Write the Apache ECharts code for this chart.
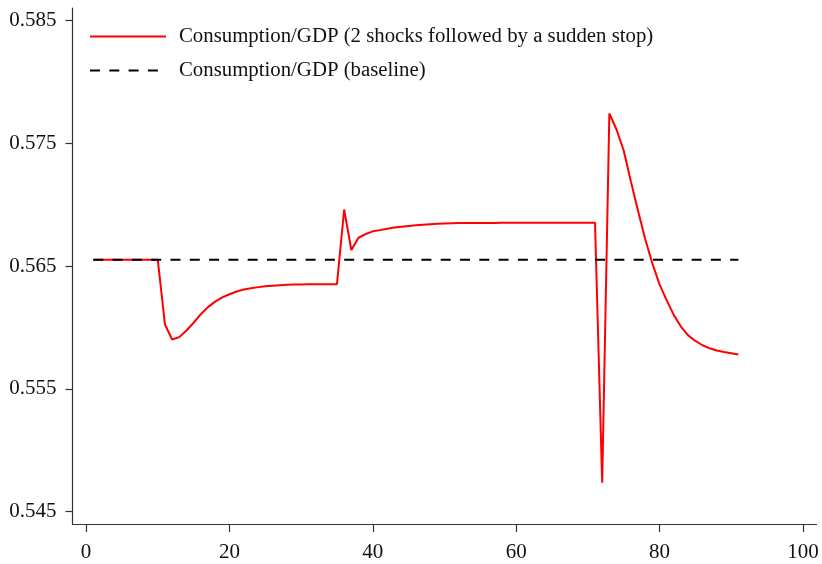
<!DOCTYPE html>
<html>
<head>
<meta charset="utf-8">
<script src="https://cdn.jsdelivr.net/npm/echarts@6/dist/echarts.min.js"></script>
<style>html,body{margin:0;padding:0;background:#fff}#c{width:822px;height:564px}</style>
</head>
<body>
<div id="c"></div>
<script>
var periods = [];
for (var i = 1; i <= 91; i++) periods.push(i);

var shockValues = [
  0.5655,0.5655,0.5655,0.5655,0.5655,0.5655,0.5655,0.5655,0.5655,0.5655,
  0.56024,0.55902,0.55921,0.55975,0.56038,0.56108,0.56165,0.56210,0.56245,0.56270,
  0.56292,0.56308,0.56319,0.56328,0.56335,0.56340,0.56344,0.56347,0.56349,0.56350,
  0.56351,0.56351,0.56352,0.56352,0.56352,
  0.5696,0.5663,0.5673,0.5676,0.56782,0.56792,0.56804,0.56813,0.56820,0.56826,
  0.56831,0.56835,0.56839,0.56843,0.56845,0.56847,0.56849,0.56850,0.56850,0.56851,
  0.56851,0.56851,0.56852,0.56852,0.56852,0.56852,0.56852,0.56852,0.56852,0.56852,
  0.56852,0.56852,0.56852,0.56852,0.56852,0.56852,
  0.54736,0.57741,0.57611,0.5744,0.5719,0.5695,0.5672,0.5652,0.5635,0.5622,
  0.5610,0.56005,0.55935,0.5589,0.55855,0.5583,0.55812,0.55800,0.55790,0.5578
];

var baselineValues = [];
for (var j = 0; j < periods.length; j++) baselineValues.push(0.5655);

var xTicks = [0, 20, 40, 60, 80, 100];
var yTicks = [0.545, 0.555, 0.565, 0.575, 0.585];

var seriesNames = ['Consumption/GDP (2 shocks followed by a sudden stop)', 'Consumption/GDP (baseline)'];

function pairs(xs, ys) { return xs.map(function (x, k) { return [x, ys[k]]; }); }

var font = 'Liberation Serif';
var axisColor = '#333';

var chart = echarts.init(document.getElementById('c'));
chart.setOption({
  animation: false,
  backgroundColor: '#fff',
  textStyle: { fontFamily: font },
  grid: { left: 72.5, right: 5.5, top: 8, bottom: 40, containLabel: false },
  legend: {
    orient: 'vertical',
    left: 84,
    top: 21,
    itemWidth: 76,
    itemHeight: 20,
    itemGap: 13,
    itemStyle: { opacity: 0 },
    textStyle: { fontFamily: font, fontSize: 20.8, color: '#111', padding: [0, 0, 0, 8] },
    data: seriesNames
  },
  xAxis: {
    type: 'value',
    min: -1.9,
    max: 101.9,
    splitLine: { show: false },
    axisLine: { onZero: false, lineStyle: { color: axisColor, width: 1.2 } },
    axisTick: { show: true, length: 8, customValues: xTicks, lineStyle: { color: axisColor, width: 1.2 } },
    axisLabel: { customValues: xTicks, margin: 18, fontFamily: font, fontSize: 21, color: '#111' }
  },
  yAxis: {
    type: 'value',
    min: 0.544,
    max: 0.586,
    splitLine: { show: false },
    axisLine: { show: true, onZero: false, lineStyle: { color: axisColor, width: 1.2 } },
    axisTick: { show: true, length: 7, customValues: yTicks, lineStyle: { color: axisColor, width: 1.2 } },
    axisLabel: {
      customValues: yTicks, margin: 16, fontFamily: font, fontSize: 21, color: '#111',
      formatter: function (v) { return v.toFixed(3); }
    }
  },
  series: [
    {
      name: seriesNames[0],
      type: 'line',
      data: pairs(periods, shockValues),
      showSymbol: false,
      symbol: 'none',
      lineStyle: { color: '#ff0000', width: 2 },
      itemStyle: { color: '#ff0000' }
    },
    {
      name: seriesNames[1],
      type: 'line',
      data: pairs(periods, baselineValues),
      showSymbol: false,
      symbol: 'none',
      lineStyle: { color: '#000', width: 2, type: [10, 9.3] },
      itemStyle: { color: '#000' }
    }
  ]
});
</script>
</body>
</html>
